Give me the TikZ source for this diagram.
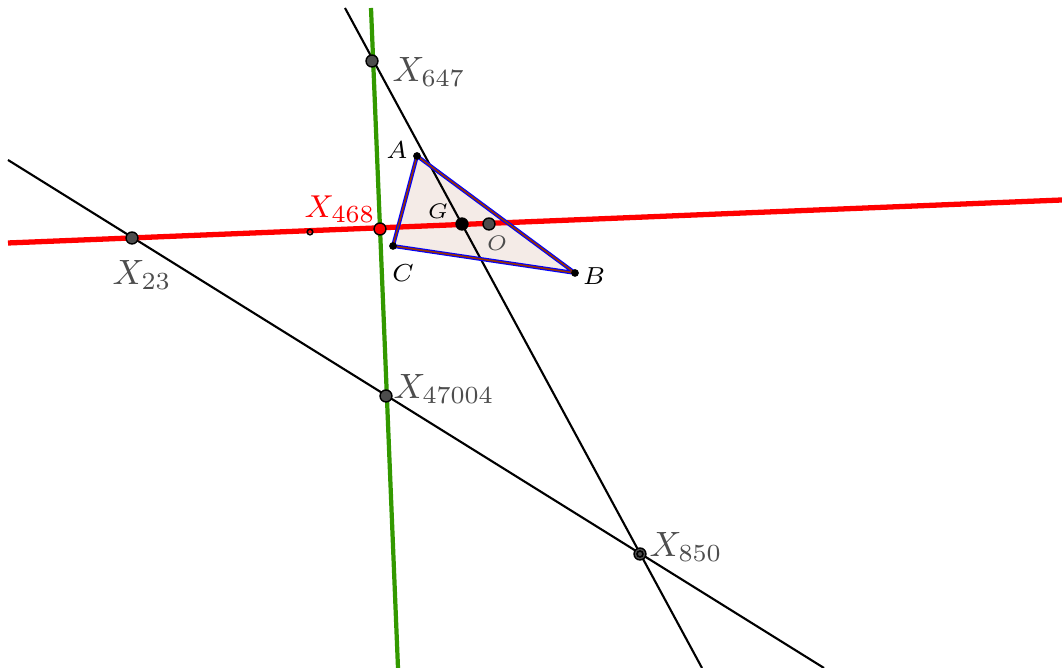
\documentclass[tikz,border=0pt]{standalone}
\usepackage{amsmath}
\usepackage{xcolor}
\usepackage{tikz}
\definecolor{pointGray}{HTML}{4D4D4D}
\definecolor{lineRed}{HTML}{FF0000}
\definecolor{lineGreen}{HTML}{339900}
\definecolor{edgeBlue}{HTML}{0000FF}
\definecolor{edgeBrown}{HTML}{993300}
\definecolor{triFill}{HTML}{F4EBE7}

\begin{document}
\begin{tikzpicture}[x=0.01cm, y=-0.01cm,
    centre/.style={fill=pointGray, draw=black, line width=0.4pt},
    centrelabel/.style={text=pointGray, font=\fontsize{10.3}{12}\selectfont, inner sep=1pt},
    vertexlabel/.style={font=\fontsize{7}{8}\selectfont, inner sep=1pt}]
    \useasboundingbox (0,0) rectangle (1062,668);
    % ends of the four lines
    \coordinate (redL) at (8,243);   \coordinate (redR) at (1062,200);
    \coordinate (greenT) at (371,8); \coordinate (greenB) at (398,668);
    \coordinate (eulT) at (345,8);   \coordinate (eulB) at (702,668);
    \coordinate (oblL) at (8,160);   \coordinate (oblR) at (824,668);
    % triangle and centres
    \coordinate (A) at (417,156); \coordinate (B) at (575,273); \coordinate (C) at (393,246);
    \coordinate (G) at (462,224); \coordinate (O) at (489,224);
    \coordinate (X23) at (132,238); \coordinate (X468) at (380,229);
    \coordinate (X647) at (372,61); \coordinate (X47004) at (386,396);
    \coordinate (X850) at (640,554); \coordinate (aux) at (310,232);

    \fill[triFill] (A) -- (B) -- (C) -- cycle;
    \draw[line width=0.6pt] (eulT) -- (eulB);
    \draw[line width=0.6pt] (oblL) -- (oblR);
    \draw[lineRed, line width=1.5pt] (redL) -- (redR);
    \draw[lineGreen, line width=1.2pt] (greenT) -- (greenB);
    \draw[edgeBlue, line width=1.1pt, line join=round] (A) -- (B) -- (C) -- cycle;
    \draw[edgeBrown, line width=0.45pt, line join=round] (A) -- (B) -- (C) -- cycle;

    \draw[line width=0.45pt] (aux) circle (0.8pt);
    \foreach \p in {X23, X647, X47004, O}
        \filldraw[centre] (\p) circle (1.7pt);
    \filldraw[centre] (X850) circle (1.7pt);
    \draw[line width=0.45pt] (X850) circle (0.85pt);
    \filldraw[fill=lineRed, draw=black, line width=0.4pt] (X468) circle (1.7pt);
    \fill (G) circle (1.9pt);
    \foreach \p in {A, B, C}
        \fill (\p) circle (1.1pt);

    \node[centrelabel] (lX647) at (429,72) {$X_{647}$};
    \node[centrelabel] (lX23) at (142,275) {$X_{23}$};
    \node[centrelabel] (lX47004) at (444,389) {$X_{47004}$};
    \node[centrelabel] (lX850) at (686,547) {$X_{850}$};
    \node[text=lineRed, font=\fontsize{9.5}{11}\selectfont, inner sep=1pt] (lX468) at (340,209) {$X_{468}$};
    \node[vertexlabel] (lA) at (397,150) {$A$};
    \node[vertexlabel] (lB) at (594,276) {$B$};
    \node[vertexlabel] (lC) at (403,273) {$C$};
    \node[vertexlabel, font=\fontsize{6}{7}\selectfont] (lG) at (438,211) {$G$};
    \node[vertexlabel, text=pointGray, font=\fontsize{6}{7}\selectfont] (lO) at (497,243) {$O$};
\end{tikzpicture}
\end{document}
